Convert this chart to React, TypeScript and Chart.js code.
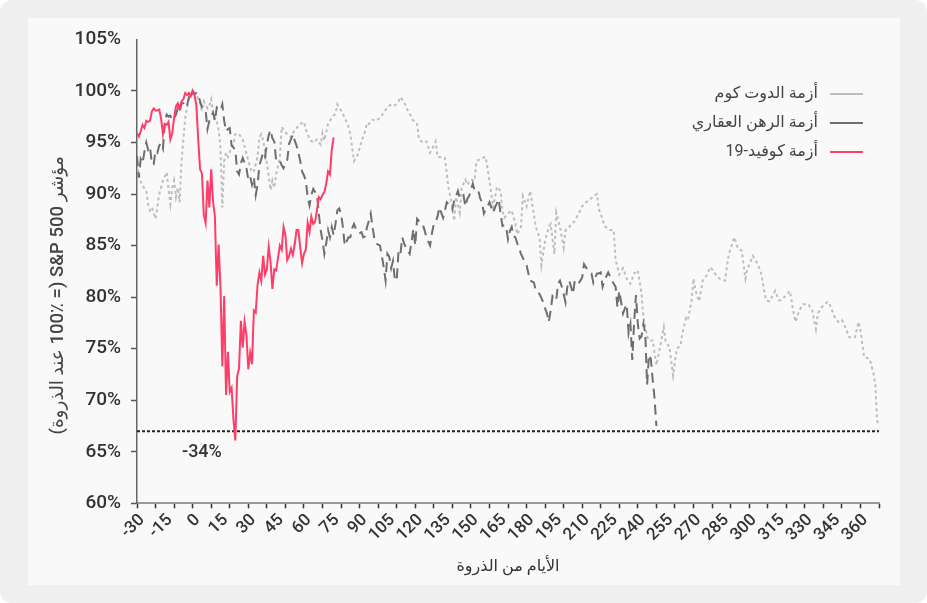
import React, { useEffect, useRef } from 'react';
import { Chart, registerables } from 'chart.js';

Chart.register(...registerables);

const seriesNames = ['أزمة الدوت كوم', 'أزمة الرهن العقاري', 'أزمة كوفيد-19'];
const yAxisTitle = 'مؤشر S&P 500 (= 100٪ عند الذروة)';
const xAxisTitle = 'الأيام من الذروة';

const xMin = -30;
const xMax = 370;
const yMin = 60;
const yMax = 105;

const troughLevel = 67;
const troughLabel = '-34%';
const troughLabelDay = 5;
const troughLabelValue = 64.9;

const dotcomDays = [
  -30, -29, -28, -27, -25, -24, -23, -22, -21, -20, -18, -16, -14, -13, -12, -11, -10, -9, -8, -7, -6, -5, -4, -3, -2, 0,
  2, 4, 5, 6, 8, 9, 10, 11, 13, 14, 15, 16, 17, 18, 19, 20, 22, 23, 24, 25, 27, 29, 31, 32, 33, 35, 36, 37, 38, 39,
  41, 42, 43, 44, 45, 47, 48, 50, 51, 53, 55, 58, 60, 61, 63, 65, 67, 69, 70, 71, 73, 75, 77, 78, 80, 82, 84, 85, 86, 87,
  89, 91, 93, 94, 95, 97, 99, 101, 103, 105, 107, 109, 111, 112, 114, 116, 117, 119, 121, 122, 124, 126, 128, 130, 131,
  132, 134, 136, 138, 139, 141, 142, 144, 145, 147, 148, 150, 152, 153, 156, 158, 160, 162, 164, 166, 167, 168, 170, 172,
  174, 175, 177, 178, 180, 182, 183, 185, 187, 188, 190, 192, 193, 195, 196, 198, 200, 201, 203, 206, 208, 210, 212, 214,
  216, 218, 219, 220, 222, 225, 227, 228, 230, 232, 234, 236, 238, 240, 242, 243, 245, 246, 248, 250, 252, 254, 255, 257,
  259, 261, 263, 264, 266, 267, 269, 270, 271, 273, 275, 277, 279, 280, 282, 284, 287, 289, 290, 292, 294, 296, 298, 299,
  302, 304, 306, 307, 309, 311, 314, 316, 317, 319, 322, 324, 325, 327, 329, 332, 334, 336, 337, 339, 342, 343, 346, 348,
  350, 352, 354, 357, 359, 360, 362, 365, 367, 368, 369, 370,
];
const dotcomValues = [
  93.0, 91.6, 91.2, 90.8, 90.3, 89.0, 88.4, 88.7, 88.2, 87.6, 90.0, 91.3, 92.1, 90.5, 89.0, 90.6, 91.3, 89.7, 90.6, 89.2, 93.2, 95.3, 97.4, 98.4, 99.2, 100,
  99.6, 98.8, 98.1, 99.0, 98.3, 98.6, 99.2, 97.8, 97.1, 96.2, 94.5, 88.7, 93.2, 94.0, 93.6, 94.1, 94.8, 95.8, 95.9, 95.8, 95.3, 93.9, 92.6, 92.1, 92.2, 93.6, 95.5, 95.8, 95.2, 94.2,
  91.8, 90.4, 91.3, 90.6, 91.9, 93.5, 96.5, 96.0, 95.8, 95.5, 96.2, 96.8, 97.0, 96.3, 95.3, 95.0, 95.3, 94.8, 95.9, 95.2, 96.8, 97.4, 97.8, 98.7, 98.1, 97.4, 96.5, 95.8, 94.5, 93.2,
  93.8, 95.1, 96.1, 96.9, 96.8, 97.2, 97.1, 97.4, 97.9, 98.4, 98.7, 98.6, 99.0, 99.4, 98.9, 98.1, 97.8, 97.1, 96.8, 95.3, 95.0, 95.1, 94.0, 94.7, 95.1,
  93.6, 93.6, 93.5, 90.5, 89.7, 87.4, 89.7, 88.2, 90.6, 91.4, 90.9, 91.4, 91.3, 93.2, 93.5, 93.6, 91.3, 88.7, 90.7, 90.3, 88.4, 87.7, 88.1, 88.4,
  87.1, 86.1, 86.8, 89.8, 88.8, 90.3, 89.1, 86.8, 85.8, 83.1, 85.5, 86.8, 87.1, 84.2, 88.2, 86.8, 84.8, 86.5, 86.8, 87.4, 88.1, 88.8, 89.2, 89.4,
  89.8, 90.0, 88.5, 88.1, 86.9, 86.5, 86.5, 83.6, 82.2, 82.8, 81.8, 81.3, 82.3, 82.6, 80.3, 78.1, 76.2, 75.8, 75.8, 73.4, 75.2, 77.1, 75.6, 75.2,
  72.4, 75.0, 75.3, 76.5, 78.0, 77.8, 79.7, 81.8, 80.7, 79.6, 81.6, 82.1, 82.9, 82.7, 82.2, 81.8, 81.6, 84.2, 84.7, 85.8, 84.7, 84.5, 81.8, 82.7,
  84.0, 83.4, 82.6, 81.8, 79.7, 79.6, 80.6, 79.7, 79.7, 80.0, 80.6, 78.4, 77.6, 78.7, 79.3, 79.3, 78.7, 76.9, 78.4, 79.0, 79.5, 79.5, 78.1, 77.6,
  77.8, 77.0, 76.1, 76.1, 77.6, 76.8, 74.2, 74.0, 72.6, 71.5, 68.0, 67.6,
];

// housing crisis: one value per trading day starting at day -30
const housingStartDay = -30;
const housingValues = [
  93.7, 91.6, 93.4, 93.0, 94.1, 95.0, 94.3, 94.6, 92.9, 92.9, 94.2, 94.0, 94.7, 94.9, 94.4, 97.0, 97.7, 97.5, 97.6, 97.2,
  97.3, 97.7, 98.3, 97.9, 98.8, 98.8, 98.4, 98.6, 99.4, 99.2, 100,
  99.7, 99.8, 99.6, 99.0, 98.4, 98.2, 98.1, 96.3, 97.1, 97.5,
  97.9, 97.1, 98.4, 98.2, 98.1, 98.7, 97.1, 96.1, 96.3, 96.4,
  94.7, 94.5, 94.3, 92.2, 91.9, 93.0, 93.5, 93.0, 92.5, 91.4,
  91.7, 90.9, 91.6, 89.9, 90.9, 92.8, 93.4, 94.0, 93.6, 94.8,
  95.7, 96.2, 95.4, 95.1, 93.3, 93.4, 93.2, 92.8, 92.5, 93.0,
  93.3, 94.9, 95.3, 95.8, 95.2, 94.7, 94.0, 93.2, 92.2, 91.8,
  91.3, 89.7, 88.9, 89.9, 90.5, 90.2, 90.0, 88.1, 86.5, 85.5,
  84.2, 85.2, 86.5, 85.8, 86.8, 86.0, 87.1, 88.4, 88.6, 88.1,
  86.8, 85.0, 85.4, 85.8, 85.8, 86.7, 87.1, 86.6, 86.3, 86.2,
  86.3, 85.8, 85.9, 86.8, 87.4, 88.1, 86.8, 85.6, 85.2, 85.1,
  85.0, 84.0, 82.9, 81.6, 84.2, 83.9, 82.8, 83.5, 81.7, 81.6,
  84.5, 84.2, 85.8, 85.2, 84.8, 84.5, 84.2, 85.4, 86.6, 85.0,
  87.6, 87.4, 87.3, 87.1, 86.5, 85.8, 85.4, 85.0, 86.2, 87.1,
  87.3, 87.8, 88.7, 88.2, 87.7, 88.4, 89.2, 89.0, 88.8, 88.5,
  89.4, 89.8, 90.3, 89.6, 89.8, 89.9, 88.8, 89.5, 89.8, 90.4,
  91.0, 90.3, 90.3, 90.3, 89.6, 89.2, 88.1, 88.5, 88.8, 89.2,
  88.7, 88.2, 88.7, 89.1, 89.5, 88.1, 86.9, 87.0, 86.8, 85.6,
  86.4, 86.8, 85.9, 85.8, 85.2, 84.7, 84.2, 83.8, 83.4, 83.1,
  82.3, 81.6, 81.5, 81.4, 80.6, 80.5, 80.3, 79.9, 79.5, 78.9,
  78.4, 77.6, 78.7, 80.1, 79.9, 79.7, 81.3, 81.6, 81.0, 80.3,
  79.5, 81.0, 81.6, 81.0, 80.3, 81.6, 81.4, 81.3, 81.6, 81.9,
  83.2, 82.9, 82.6, 82.4, 82.3, 81.4, 81.9, 82.3, 82.3, 82.4,
  81.0, 81.6, 82.0, 82.4, 82.0, 81.6, 81.3, 81.0, 79.0, 80.6,
  79.5, 78.4, 78.9, 79.3, 76.5, 77.4, 73.9, 77.6, 80.2, 77.4,
  76.0, 76.2, 77.4, 76.5, 71.5, 74.4, 74.0, 72.0, 70.2, 67.5,
];

// covid crisis: one value per trading day starting at day -30
const covidStartDay = -30;
const covidValues = [
  95.9, 95.6, 96.1, 96.7, 96.4, 97.1, 97.0, 97.1, 98.0, 98.3,
  98.1, 98.1, 98.2, 97.3, 95.8, 96.8, 96.7, 97.0, 95.3, 95.9,
  97.4, 98.5, 98.8, 98.3, 99.0, 99.2, 99.8, 99.6, 99.8, 99.5, 100,
  99.6, 98.6, 95.3, 92.4, 92.0, 88.0, 87.2, 91.3, 88.7, 92.4,
  89.3, 87.8, 81.1, 85.1, 81.0, 73.3, 80.1, 70.5, 74.7, 70.8,
  71.2, 68.1, 66.1, 72.3, 73.1, 77.7, 75.1, 77.6, 76.3, 73.0,
  74.6, 73.5, 78.7, 78.5, 81.2, 82.4, 81.6, 84.0, 82.2, 82.7,
  84.9, 83.4, 80.8, 82.7, 82.6, 83.8, 85.0, 84.6, 86.8, 86.0,
  83.6, 84.0, 84.7, 84.1, 85.1, 86.5, 86.5, 84.8, 83.3, 84.2,
  84.6, 87.2, 86.3, 87.8, 87.1, 87.3, 88.4, 89.7, 89.5, 89.9,
  90.2, 91.0, 92.2, 91.9, 94.3, 95.5,
];

const FONT = "Roboto, 'DejaVu Sans', sans-serif";
const TEXT = '#333333';

const toPoints = (days: number[], values: number[]) => values.map((v, i) => ({ x: days[i], y: v }));
const toDailyPoints = (start: number, values: number[]) => values.map((v, i) => ({ x: start + i, y: v }));

const legendPlacementPlugin = {
  id: 'legendPlacement',
  beforeDraw(chart: any) {
    const lg = chart.legend;
    const ca = chart.chartArea;
    if (!lg || !ca) return;
    const w = lg.width;
    const h = lg.height;
    lg.left = ca.right - 3 - w;
    lg.right = ca.right - 3;
    lg.top = ca.top + 33.5;
    lg.bottom = lg.top + h;
  },
};

const yTitlePlugin = {
  id: 'yTitle',
  afterDraw(chart: any) {
    const { ctx, chartArea: ca } = chart;
    ctx.save();
    ctx.translate(30, (ca.top + ca.bottom) / 2 + 24);
    ctx.rotate(-Math.PI / 2);
    ctx.direction = 'rtl';
    ctx.font = `500 18.5px ${FONT}`;
    ctx.fillStyle = '#444444';
    ctx.textAlign = 'center';
    ctx.textBaseline = 'middle';
    ctx.fillText(yAxisTitle, 0, 0);
    ctx.restore();
  },
};

const troughLabelPlugin = {
  id: 'troughLabel',
  afterDatasetsDraw(chart: any) {
    const { ctx, scales } = chart;
    const x = scales.x.getPixelForValue(troughLabelDay);
    const y = scales.y.getPixelForValue(troughLabelValue);
    ctx.save();
    ctx.direction = 'ltr';
    ctx.font = `500 18px ${FONT}`;
    ctx.fillStyle = TEXT;
    ctx.textAlign = 'center';
    ctx.textBaseline = 'middle';
    ctx.fillText(troughLabel, x, y);
    ctx.restore();
  },
};

export default function App() {
  const canvasRef = useRef<HTMLCanvasElement>(null);

  useEffect(() => {
    document.body.style.margin = '0';
    const canvas = canvasRef.current;
    if (!canvas) return;

    const chart = new Chart(canvas, {
      type: 'line',
      data: {
        datasets: [
          {
            label: seriesNames[0],
            data: toPoints(dotcomDays, dotcomValues),
            borderColor: '#bdbdbd',
            backgroundColor: '#bdbdbd',
            borderWidth: 2,
            borderDash: [3, 3],
            pointRadius: 0,
            pointHoverRadius: 0,
            tension: 0,
            order: 3,
          },
          {
            label: seriesNames[1],
            data: toDailyPoints(housingStartDay, housingValues),
            borderColor: '#6e6e6e',
            backgroundColor: '#6e6e6e',
            borderWidth: 2,
            borderDash: [10, 6],
            pointRadius: 0,
            pointHoverRadius: 0,
            tension: 0,
            order: 2,
          },
          {
            label: seriesNames[2],
            data: toDailyPoints(covidStartDay, covidValues),
            borderColor: '#ff3d68',
            backgroundColor: '#ff3d68',
            borderWidth: 2,
            pointRadius: 0,
            pointHoverRadius: 0,
            tension: 0,
            order: 1,
          },
          {
            label: 'trough',
            data: [
              { x: xMin, y: troughLevel },
              { x: xMax, y: troughLevel },
            ],
            borderColor: '#222222',
            borderWidth: 2,
            borderDash: [3, 2],
            pointRadius: 0,
            pointHoverRadius: 0,
            order: 4,
          },
        ],
      },
      options: {
        animation: false,
        responsive: false,
        maintainAspectRatio: false,
        devicePixelRatio: 1,
        layout: { padding: { top: 20, right: 21, left: 0, bottom: 0 } },
        plugins: {
          tooltip: { enabled: false },
          legend: {
            position: 'chartArea',
            align: 'start',
            rtl: true,
            labels: {
              usePointStyle: true,
              pointStyle: 'line',
              pointStyleWidth: 33,
              padding: 13,
              color: '#444444',
              font: { family: FONT, size: 16 },
              sort: (a: any, b: any) => a.datasetIndex - b.datasetIndex,
              generateLabels(c: any) {
                const items = (Chart.defaults.plugins.legend.labels as any).generateLabels(c);
                return items
                  .filter((it: any) => it.datasetIndex !== 3)
                  .map((it: any) => ({
                    ...it,
                    text: it.text + ' ',
                    lineDash: it.datasetIndex === 1 ? [] : it.lineDash,
                  }));
              },
            },
          },
        },
        scales: {
          x: {
            type: 'linear',
            min: xMin,
            max: xMax,
            afterFit: (s: any) => {
              s.height = 81.7;
            },
            ticks: {
              stepSize: 5,
              autoSkip: false,
              minRotation: 45,
              maxRotation: 45,
              padding: 2,
              labelOffset: 5,
              color: TEXT,
              font: { family: FONT, size: 17, weight: '500' },
              callback: (v: any) => (Number(v) % 15 === 0 ? String(v) : ''),
            },
            grid: {
              drawOnChartArea: false,
              drawTicks: true,
              tickLength: 5,
              tickWidth: 1.5,
              tickColor: (ctx: any) =>
                ctx.tick && Number(ctx.tick.value) % 10 === 0 ? '#333333' : 'rgba(0,0,0,0)',
            },
            border: { display: true, color: '#999999', width: 2 },
            title: {
              display: true,
              text: xAxisTitle,
              color: TEXT,
              font: { family: FONT, size: 16 },
              padding: { top: 0, bottom: 8 },
            },
          },
          y: {
            type: 'linear',
            min: yMin,
            max: yMax,
            afterFit: (s: any) => {
              s.width = 109;
            },
            ticks: {
              stepSize: 5,
              padding: 10,
              color: TEXT,
              font: { family: FONT, size: 19, weight: '500' },
              callback: (v: any) => `${v}%`,
            },
            grid: {
              drawOnChartArea: false,
              drawTicks: true,
              tickLength: 6,
              tickWidth: 1.5,
              tickColor: (ctx: any) =>
                ctx.tick && Number(ctx.tick.value) === yMax ? 'rgba(0,0,0,0)' : '#555555',
            },
            border: { display: true, color: '#666666', width: 1.5 },
            title: { display: false },
          },
        },
      } as any,
      plugins: [legendPlacementPlugin, yTitlePlugin, troughLabelPlugin],
    });

    return () => chart.destroy();
  }, []);

  return (
    <div style={{ position: 'fixed', left: 0, top: 0, width: 927, height: 603, background: '#ffffff' }}>
      <div style={{ position: 'absolute', left: 0, top: 0, width: 927, height: 603, background: '#efefef', borderRadius: 12 }}>
        <div style={{ position: 'absolute', left: 28, top: 18, width: 872, height: 567, background: '#f9f9f9' }}>
          <canvas ref={canvasRef} width={872} height={567} style={{ width: 872, height: 567, display: 'block' }} />
        </div>
      </div>
    </div>
  );
}
